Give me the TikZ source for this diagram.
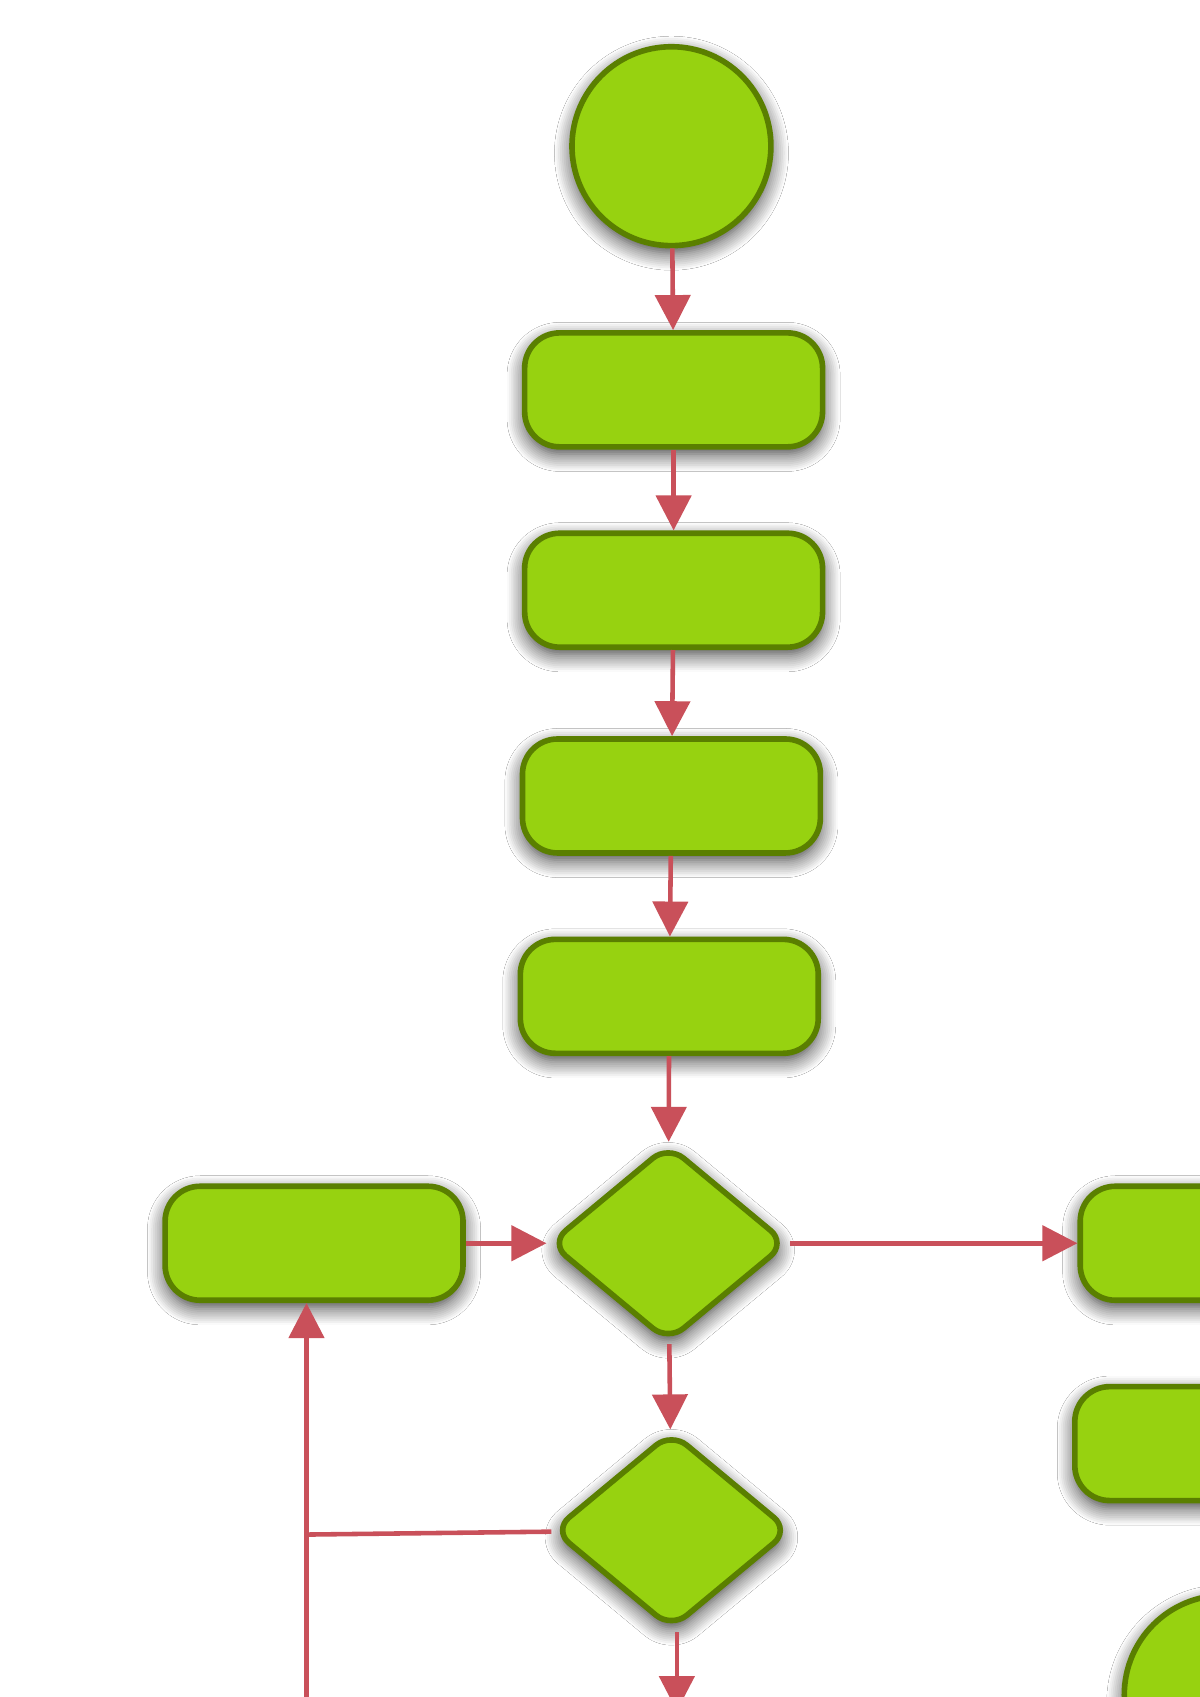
\documentclass[tikz,border=0pt]{standalone}
\usetikzlibrary{shapes.geometric,arrows.meta,shadows.blur}
\definecolor{leaf}{HTML}{97D210}
\definecolor{leafdark}{HTML}{5A7F00}
\definecolor{arrowred}{HTML}{C9505A}
\tikzset{
  halo/.style={blur shadow={shadow blur steps=10, shadow blur radius=5pt, shadow opacity=80, shadow xshift=0pt, shadow yshift=-2pt}},
  box/.style={rectangle, rounded corners=0.35cm, draw=leafdark, line width=1.6pt, fill=leaf,
    minimum width=2.98cm, minimum height=1.14cm, halo},
  start/.style={circle, draw=leafdark, line width=1.6pt, fill=leaf, minimum size=1.99cm, halo},
  test/.style={diamond, rounded corners=0.2cm, draw=leafdark, line width=1.6pt, fill=leaf,
    minimum width=2.38cm, minimum height=1.98cm, aspect=1.2, halo},
  flow/.style={draw=arrowred, line width=1.3pt, -{Triangle[length=0.35cm, width=0.35cm]}},
  line/.style={draw=arrowred, line width=1.3pt}
}
\begin{document}
\begin{tikzpicture}[x=0.01083cm, y=-0.01083cm]
    \useasboundingbox[fill=white] (0,0) rectangle (1108,1567);
    \clip (0,0) rectangle (1108,1567);

    \node[start] (begin) at (620, 135) {};
    \node[box] (stepa) at (622, 360) {};
    \node[box] (stepb) at (622, 545) {};
    \node[box] (stepc) at (620, 735) {};
    \node[box] (stepd) at (618, 920) {};
    \node[test] (checka) at (617, 1148) {};
    \node[box] (retry) at (290, 1148) {};
    \node[box] (yesa) at (1135, 1148) {};
    \node[box] (yesb) at (1130, 1333) {};
    \node[test] (checkb) at (620, 1413) {};
    \node[start] (finish) at (1130, 1565) {};

    \coordinate (down) at (625, 1580);
    \coordinate (loopin) at (283, 1580);
    \coordinate (join) at (283, 1417);

    % arrows
    \draw[flow] (begin) -- (stepa);
    \draw[flow] (stepa) -- (stepb);
    \draw[flow] (stepb) -- (stepc);
    \draw[flow] (stepc) -- (stepd);
    \draw[flow] (stepd) -- (checka);
    \draw[flow] (retry) -- (checka);
    \draw[flow] (checka) -- (yesa.west |- checka);
    \draw[flow] (checka) -- (checkb);
    \draw[flow] (checkb.south) ++(5,0) -- (down);
    \draw[line] (checkb) -- (join);
    \draw[flow] (loopin) -- (retry.south -| join);
\end{tikzpicture}
\end{document}
